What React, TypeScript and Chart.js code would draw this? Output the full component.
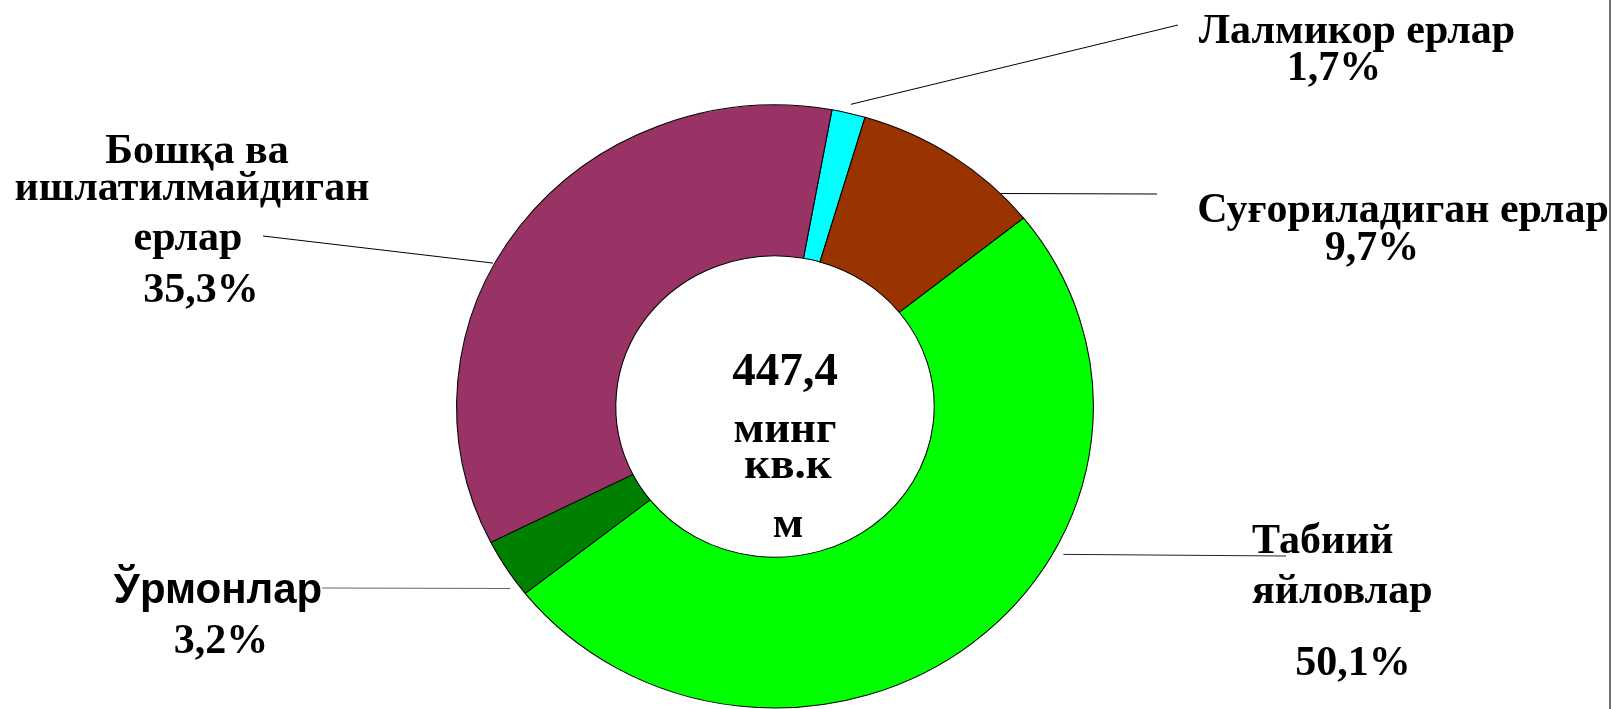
import React, { useEffect, useRef } from 'react';
import { Chart, registerables } from 'chart.js';

Chart.register(...registerables);

// ---- data ----
const categories = [
  'Лалмикор ерлар',
  'Суғориладиган ерлар',
  'Табиий яйловлар',
  'Ўрмонлар',
  'Бошқа ва ишлатилмайдиган ерлар',
];
const shares = [1.7, 9.7, 50.1, 3.2, 35.3];
const colors = ['#00FFFF', '#993300', '#00FF00', '#008000', '#993366'];
const labelLines = [
  ['Лалмикор ерлар'],
  ['Суғориладиган ерлар'],
  ['Табиий', 'яйловлар'],
  ['Ўрмонлар'],
  ['Бошқа ва', 'ишлатилмайдиган', 'ерлар'],
];
const totalValue = '447,4';
const totalUnitLines = ['минг', 'кв.к', 'м'];

// ---- layout (positions of annotation text, not data) ----
const W = 1615;
const H = 709;
const SX = 1.056; // horizontal stretch of the ring
const SERIF = '"Liberation Serif", "Times New Roman", serif';
const SANS = '"Liberation Sans", Arial, sans-serif';
const LABEL_PX = 42;

type Pos = { x: number; y: number; align: CanvasTextAlign };
type LabelLayout = {
  lines: Pos[];
  pct: Pos;
  nameFont: string;
  frac: number;
  rf: number;
  end: [number, number];
  lineColor: string;
};

const layout: LabelLayout[] = [
  {
    lines: [{ x: 1357, y: 43, align: 'center' }],
    pct: { x: 1334, y: 80, align: 'center' },
    nameFont: SERIF,
    frac: 0.5,
    rf: 1.03,
    end: [1178, 25],
    lineColor: '#000',
  },
  {
    lines: [{ x: 1403, y: 222, align: 'center' }],
    pct: { x: 1372, y: 260, align: 'center' },
    nameFont: SERIF,
    frac: 0.82,
    rf: 1.0,
    end: [1157, 194],
    lineColor: '#000',
  },
  {
    lines: [
      { x: 1252, y: 553, align: 'left' },
      { x: 1252, y: 603, align: 'left' },
    ],
    pct: { x: 1353, y: 675, align: 'center' },
    nameFont: SERIF,
    frac: 0.372,
    rf: 1.03,
    end: [1286, 556],
    lineColor: '#222',
  },
  {
    lines: [{ x: 218, y: 603, align: 'center' }],
    pct: { x: 221, y: 653, align: 'center' },
    nameFont: SANS,
    frac: 0.2,
    rf: 1.027,
    end: [322, 588],
    lineColor: '#666',
  },
  {
    lines: [
      { x: 197, y: 163, align: 'center' },
      { x: 192, y: 200, align: 'center' },
      { x: 188, y: 250, align: 'center' },
    ],
    pct: { x: 201, y: 302, align: 'center' },
    nameFont: SERIF,
    frac: 0.433,
    rf: 1.005,
    end: [263, 236],
    lineColor: '#000',
  },
];

const centerLayout = [
  { x: 785, y: 385 },
  { x: 785, y: 442 },
  { x: 788, y: 478 },
  { x: 788, y: 537 },
];

const fmtPct = (v: number) => v.toFixed(1).replace('.', ',') + '%';

const ellipsePlugin = {
  id: 'ellipseRing',
  beforeDatasetsDraw(chart: any) {
    const arc = chart.getDatasetMeta(0).data[0] as any;
    const ctx = chart.ctx as CanvasRenderingContext2D;
    ctx.save();
    ctx.translate(arc.x, arc.y);
    ctx.scale(SX, 1);
    ctx.translate(-arc.x, -arc.y);
  },
  afterDatasetsDraw(chart: any) {
    chart.ctx.restore();
  },
};

const labelsPlugin = {
  id: 'ringLabels',
  afterDraw(chart: any) {
    const ctx = chart.ctx as CanvasRenderingContext2D;
    const meta = chart.getDatasetMeta(0);
    ctx.save();
    // right frame line
    ctx.strokeStyle = '#707070';
    ctx.lineWidth = 2;
    ctx.beginPath();
    ctx.moveTo(1610, 0);
    ctx.lineTo(1610, H);
    ctx.stroke();

    ctx.fillStyle = '#000';
    ctx.textBaseline = 'alphabetic';
    meta.data.forEach((arc: any, i: number) => {
      const L = layout[i];
      const a = arc.startAngle + L.frac * (arc.endAngle - arc.startAngle);
      const r = arc.outerRadius * L.rf;
      const sx = arc.x + Math.cos(a) * r * SX;
      const sy = arc.y + Math.sin(a) * r;
      ctx.strokeStyle = L.lineColor;
      ctx.lineWidth = 1;
      ctx.beginPath();
      ctx.moveTo(sx, sy);
      ctx.lineTo(L.end[0], L.end[1]);
      ctx.stroke();

      ctx.font = `bold ${LABEL_PX}px ${L.nameFont}`;
      labelLines[i].forEach((t, j) => {
        const p = L.lines[j];
        ctx.textAlign = p.align;
        ctx.fillText(t, p.x, p.y);
      });
      ctx.font = `bold ${LABEL_PX}px ${SERIF}`;
      ctx.textAlign = L.pct.align;
      ctx.fillText(fmtPct(shares[i]), L.pct.x, L.pct.y);
    });

    ctx.textAlign = 'center';
    const centerTexts = [totalValue, ...totalUnitLines];
    centerTexts.forEach((t, j) => {
      ctx.font = `bold ${j === 0 ? 47 : 45}px ${SERIF}`;
      ctx.fillText(t, centerLayout[j].x, centerLayout[j].y);
    });
    ctx.restore();
  },
};

export default function App() {
  const ref = useRef<HTMLCanvasElement | null>(null);
  useEffect(() => {
    if (!ref.current) return;
    const chart = new Chart(ref.current, {
      type: 'doughnut',
      data: {
        labels: categories,
        datasets: [
          {
            data: shares,
            backgroundColor: colors,
            borderColor: '#000',
            borderWidth: 1,
          },
        ],
      },
      options: {
        responsive: false,
        animation: false,
        devicePixelRatio: 1,
        events: [],
        rotation: 10.3,
        cutout: '50%',
        layout: { padding: { top: 104, bottom: 0, left: 473, right: 538 } },
        plugins: {
          legend: { display: false },
          tooltip: { enabled: false },
        },
      },
      plugins: [ellipsePlugin, labelsPlugin],
    });
    return () => chart.destroy();
  }, []);
  return (
    <div style={{ position: 'absolute', left: 0, top: 0, width: W, height: H, background: '#fff' }}>
      <canvas ref={ref} width={W} height={H} style={{ display: 'block', width: W, height: H }} />
    </div>
  );
}
